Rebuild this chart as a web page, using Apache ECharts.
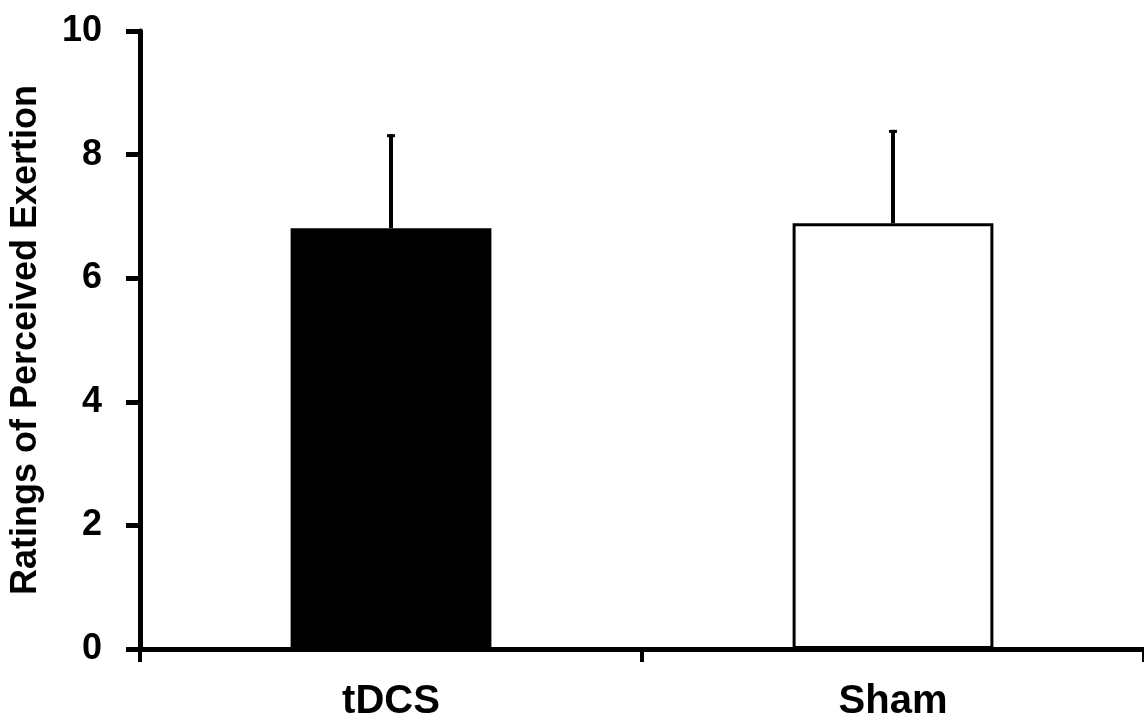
<!DOCTYPE html>
<html lang="en">
  <head>
    <meta charset="UTF-8" />
    <title>RPE</title>
    <script src="https://cdn.jsdelivr.net/npm/echarts@6/dist/echarts.min.js"></script>
    <style>
      html, body { margin: 0; padding: 0; background: #fff; }
    </style>
  </head>
  <body>
    <div id="main" style="width: 1144px; height: 724px"></div>
    <script>
      // data
      var groups = ["tDCS", "Sham"];
      var means = [6.81, 6.89];
      var upper = [8.33, 8.4]; // top of error bar
      var barColors = ["#000000", "#ffffff"];
      var yTicks = [0, 2, 4, 6, 8, 10];

      var font = "Liberation Sans, Arial, sans-serif";
      var myChart = echarts.init(document.getElementById("main"));

      var option = {
        animation: false,
        backgroundColor: "#fff",
        grid: { left: 138, top: 31, width: 1010, height: 618, containLabel: false },
        xAxis: {
          type: "category",
          data: groups,
          axisLine: { lineStyle: { color: "#000", width: 5 } },
          axisTick: { show: true, length: 13, inside: false, lineStyle: { color: "#000", width: 4 } },
          axisLabel: { color: "#000", fontFamily: font, fontWeight: "bold", fontSize: 40, margin: 33 },
        },
        yAxis: {
          type: "value",
          min: yTicks[0],
          max: yTicks[yTicks.length - 1],
          interval: 2,
          name: "Ratings of Perceived Exertion",
          nameLocation: "middle",
          nameGap: 96,
          nameTextStyle: { color: "#000", fontFamily: font, fontWeight: "bold", fontSize: 36 },
          axisLine: { show: true, lineStyle: { color: "#000", width: 5 } },
          axisTick: { show: true, length: 14, lineStyle: { color: "#000", width: 5 } },
          axisLabel: { color: "#000", fontFamily: font, fontWeight: "bold", fontSize: 36, margin: 38 },
          splitLine: { show: false },
        },
        series: [
          {
            type: "bar",
            barWidth: "40%",
            data: means.map(function (v, i) {
              return {
                value: v,
                itemStyle: { color: barColors[i], borderColor: "#000", borderWidth: 3 },
              };
            }),
            z: 2,
          },
          {
            type: "custom",
            z: 3,
            data: groups.map(function (g, i) {
              return [i, means[i], upper[i]];
            }),
            renderItem: function (params, api) {
              var base = api.coord([api.value(0), api.value(1)]);
              var top = api.coord([api.value(0), api.value(2)]);
              var x = base[0];
              return {
                type: "group",
                children: [
                  {
                    type: "line",
                    shape: { x1: x, y1: base[1], x2: x, y2: top[1] },
                    style: { stroke: "#000", lineWidth: 4 },
                  },
                  {
                    type: "line",
                    shape: { x1: x - 4, y1: top[1] + 1.5, x2: x + 4, y2: top[1] + 1.5 },
                    style: { stroke: "#000", lineWidth: 3 },
                  },
                ],
              };
            },
          },
        ],
      };
      myChart.setOption(option);
    </script>
  </body>
</html>
